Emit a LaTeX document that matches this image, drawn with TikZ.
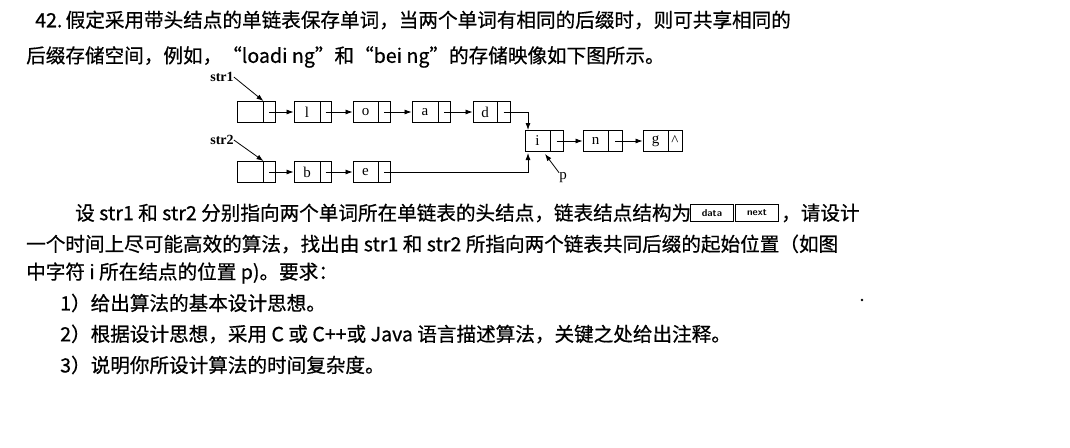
\documentclass[tikz,border=0pt]{standalone}
\usepackage{fontspec}
\setmainfont{Liberation Serif}
\newfontfamily\cjk[FakeBold=0.6]{Noto Sans CJK SC}
\usetikzlibrary{arrows.meta}
\begin{document}
\begin{tikzpicture}[x=1pt,y=-1pt,
  cell/.style={draw,line width=0.9pt,minimum height=21pt,inner sep=0pt},
  lnk/.style={-{Latex[length=7pt,width=5pt]},line width=0.8pt},
  txt/.style={anchor=west,inner sep=0pt,font=\cjk\fontsize{19.6}{21}\selectfont},
  lbl/.style={inner sep=0pt,font=\fontsize{15}{16}\selectfont},
  inl/.style={draw,line width=0.9pt,minimum width=43pt,minimum height=17pt,inner sep=0pt,font=\sffamily\bfseries\fontsize{10}{11}\selectfont,anchor=west}]
\useasboundingbox[fill=white] (0,0) rectangle (1070,447);
\foreach \n/\a/\d/\b/\y/\t in {h1/237/263/275/112/{},l/294/320/331/112/l,o/353/378/390/112/o,a/412/438/450/112/a,d/473/497/510/112/d,
  i/525/550/563/141/i,n/583/608/622/141/n,g/643/668/682/141/g,h2/237/263/275/172/{},b/294/320/331/172/b,e/353/378/390/172/e}{
  \node[cell,minimum width=\d-\a,lbl] (\n d) at ({(\a+\d)/2},\y) {\t};
  \node[cell,minimum width=\b-\d] (\n n) at ({(\d+\b)/2},\y) {};
}
\node[lbl] at (gn) {\^{}};
\foreach \u/\v in {h1/l,l/o,o/a,a/d,i/n,n/g,h2/b,b/e}{\draw[lnk] (\u n.center) -- (\v d.west);}
\coordinate (ti) at (528,130);
\coordinate (bi) at (528,153);
\draw[lnk] (dn.center) -| (ti);
\draw[lnk] (en.center) -| (bi);
\node[lbl,font=\bfseries\fontsize{14}{15}\selectfont] (s1) at (222,77) {str1};
\node[lbl,font=\bfseries\fontsize{14}{15}\selectfont] (s2) at (222,140) {str2};
\node[lbl] (p) at (563,178) {p};
\draw[lnk] (s1.east) -- (h1d.north east);
\draw[lnk] (s2.east) -- (h2d.north east);
\draw[lnk] (p.north west) -- (545,154);
\node[txt] (t1) at (35,20) {42.\,假定采用带头结点的单链表保存单词，当两个单词有相同的后缀时，则可共享相同的};
\node[txt] (t2) at (26,57) {后缀存储空间，例如，“loadi ng”和“bei ng”的存储映像如下图所示。};
\node[txt] (t3) at (75,213) {设 str1 和 str2 分别指向两个单词所在单链表的头结点，链表结点结构为};
\node[inl] (bx1) at (690,213) {data};
\node[inl] (bx2) at (735,213) {next};
\node[txt] (t3b) at (781,213) {，请设计};
\node[txt] (t4) at (26,244) {一个时间上尽可能高效的算法，找出由 str1 和 str2 所指向两个链表共同后缀的起始位置（如图};
\node[txt] (t5) at (26,273) {中字符 i 所在结点的位置 p)。要求：};
\node[txt] (t6) at (60,303) {1）给出算法的基本设计思想。};
\node[txt] (t7) at (60,334) {2）根据设计思想，采用 C 或 C++或 Java 语言描述算法，关键之处给出注释。};
\node[txt] (t8) at (60,365) {3）说明你所设计算法的时间复杂度。};
\fill (862,300) circle (1.3);
\end{tikzpicture}
\end{document}
